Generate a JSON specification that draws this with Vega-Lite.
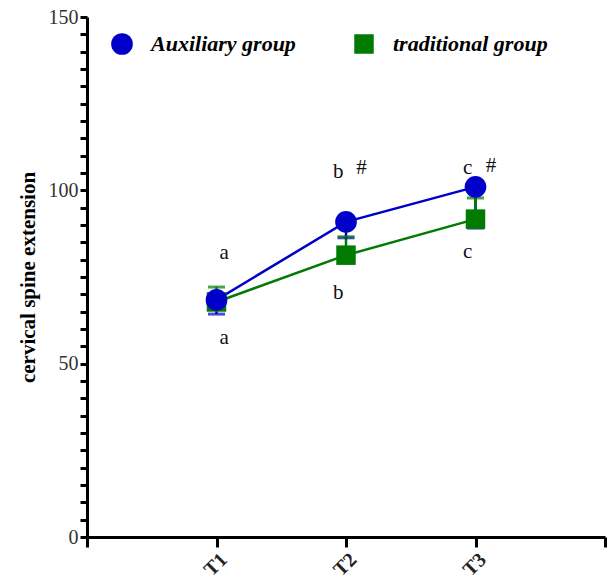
{
  "$schema": "https://vega.github.io/schema/vega-lite/v6.json",
  "width": 518,
  "height": 520,
  "autosize": {"type": "none"},
  "padding": {"left": 87, "top": 17, "right": 3, "bottom": 44},
  "background": "white",
  "config": {
    "view": {"stroke": null},
    "font": "Liberation Serif",
    "axis": {
      "domainColor": "black", "domainWidth": 3, "tickColor": "black", "tickWidth": 3, "grid": false,
      "labelFont": "Liberation Serif", "labelOverlap": false, "labelBound": false, "labelFlush": false,
      "titleFont": "Liberation Serif"
    },
    "axisX": {"labelAngle": -45, "labelFontSize": 20, "labelFontWeight": "bold", "labelColor": "#222", "labelPadding": 2, "tickSize": 10},
    "axisY": {"labelFontSize": 20, "labelColor": "#333", "labelPadding": 2, "tickSize": 7,
      "titleFontSize": 21, "titleFontWeight": "bold", "titleColor": "black", "titlePadding": 10}
  },
  "datasets": {
    "means": [
      {"time": 1, "group": "Auxiliary group", "mean": 68.4, "lo": 64.3, "hi": 68.4, "cap": 64.3},
      {"time": 2, "group": "Auxiliary group", "mean": 90.9, "lo": 86.3, "hi": 90.9, "cap": 86.3},
      {"time": 3, "group": "Auxiliary group", "mean": 101.0, "lo": 89.1, "hi": 101.0, "cap": 89.1},
      {"time": 1, "group": "traditional group", "mean": 67.8, "lo": 67.8, "hi": 72.1, "cap": 72.1},
      {"time": 2, "group": "traditional group", "mean": 81.3, "lo": 81.3, "hi": 86.6, "cap": 86.6},
      {"time": 3, "group": "traditional group", "mean": 91.7, "lo": 91.7, "hi": 97.8, "cap": 97.8}
    ],
    "notes": [
      {"time": 1.06, "value": 81.9, "label": "a"},
      {"time": 1.06, "value": 57.4, "label": "a"},
      {"time": 1.94, "value": 105.3, "label": "b"},
      {"time": 2.12, "value": 106.4, "label": "#"},
      {"time": 1.94, "value": 70.4, "label": "b"},
      {"time": 2.94, "value": 106.4, "label": "c"},
      {"time": 3.12, "value": 107.0, "label": "#"},
      {"time": 2.94, "value": 82.2, "label": "c"}
    ]
  },
  "encoding": {
    "x": {"field": "time", "type": "quantitative", "scale": {"domain": [0, 4]},
      "axis": {
        "values": [0, 1, 2, 3, 4],
        "labelExpr": "datum.value == 1 ? 'T1' : datum.value == 2 ? 'T2' : datum.value == 3 ? 'T3' : ''",
        "title": null
      }}
  },
  "layer": [
    {
      "data": {"name": "means"},
      "mark": {"type": "rule", "strokeWidth": 2.5},
      "encoding": {
        "y": {"field": "lo", "type": "quantitative", "scale": {"domain": [0, 150], "nice": false},
          "axis": {
            "values": [0,5,10,15,20,25,30,35,40,45,50,55,60,65,70,75,80,85,90,95,100,105,110,115,120,125,130,135,140,145,150],
            "labelExpr": "datum.value % 50 == 0 ? datum.label : ''",
            "title": "cervical spine extension"
          }},
        "y2": {"field": "hi"},
        "color": {"field": "group", "type": "nominal",
          "scale": {"domain": ["Auxiliary group", "traditional group"], "range": ["#0000c8", "#007a00"]}}
      }
    },
    {
      "data": {"name": "means"},
      "mark": {"type": "tick", "orient": "horizontal", "size": 17, "thickness": 3},
      "encoding": {
        "y": {"field": "cap", "type": "quantitative",
          "axis": {
            "values": [0,5,10,15,20,25,30,35,40,45,50,55,60,65,70,75,80,85,90,95,100,105,110,115,120,125,130,135,140,145,150],
            "labelExpr": "datum.value % 50 == 0 ? datum.label : ''",
            "title": "cervical spine extension"
          }},
        "color": {"field": "group", "type": "nominal"}
      }
    },
    {
      "data": {"name": "means"},
      "mark": {"type": "line", "strokeWidth": 2.5},
      "encoding": {
        "y": {"field": "mean", "type": "quantitative",
          "axis": {
            "values": [0,5,10,15,20,25,30,35,40,45,50,55,60,65,70,75,80,85,90,95,100,105,110,115,120,125,130,135,140,145,150],
            "labelExpr": "datum.value % 50 == 0 ? datum.label : ''",
            "title": "cervical spine extension"
          }},
        "color": {"field": "group", "type": "nominal"},
        "order": {"field": "time"}
      }
    },
    {
      "data": {"name": "means"},
      "mark": {"type": "point", "filled": true, "opacity": 1},
      "encoding": {
        "y": {"field": "mean", "type": "quantitative",
          "axis": {
            "values": [0,5,10,15,20,25,30,35,40,45,50,55,60,65,70,75,80,85,90,95,100,105,110,115,120,125,130,135,140,145,150],
            "labelExpr": "datum.value % 50 == 0 ? datum.label : ''",
            "title": "cervical spine extension"
          }},
        "color": {"field": "group", "type": "nominal",
          "legend": {
            "orient": "none", "legendX": 24, "legendY": 16, "direction": "horizontal", "title": null,
            "labelFont": "Liberation Serif", "labelFontSize": 22, "labelFontStyle": "italic", "labelFontWeight": "bold",
            "labelColor": "black", "symbolSize": 420, "symbolOpacity": 1, "labelOffset": 18, "columnPadding": 57,
            "symbolStrokeWidth": 0, "labelLimit": 300,
            "encode": {"symbols": {"update": {"opacity": {"value": 1}, "fillOpacity": {"value": 1}}}}
          }},
        "shape": {"field": "group", "type": "nominal",
          "scale": {"domain": ["Auxiliary group", "traditional group"], "range": ["circle", "square"]}},
        "size": {"field": "group", "type": "nominal",
          "scale": {"domain": ["Auxiliary group", "traditional group"], "range": [470, 380]}, "legend": null},
        "order": {"field": "group", "sort": "descending"}
      }
    },
    {
      "data": {"name": "notes"},
      "mark": {"type": "text", "fontSize": 21, "font": "Liberation Serif", "color": "#111"},
      "encoding": {
        "y": {"field": "value", "type": "quantitative",
          "axis": {
            "values": [0,5,10,15,20,25,30,35,40,45,50,55,60,65,70,75,80,85,90,95,100,105,110,115,120,125,130,135,140,145,150],
            "labelExpr": "datum.value % 50 == 0 ? datum.label : ''",
            "title": "cervical spine extension"
          }},
        "text": {"field": "label"}
      }
    }
  ]
}
